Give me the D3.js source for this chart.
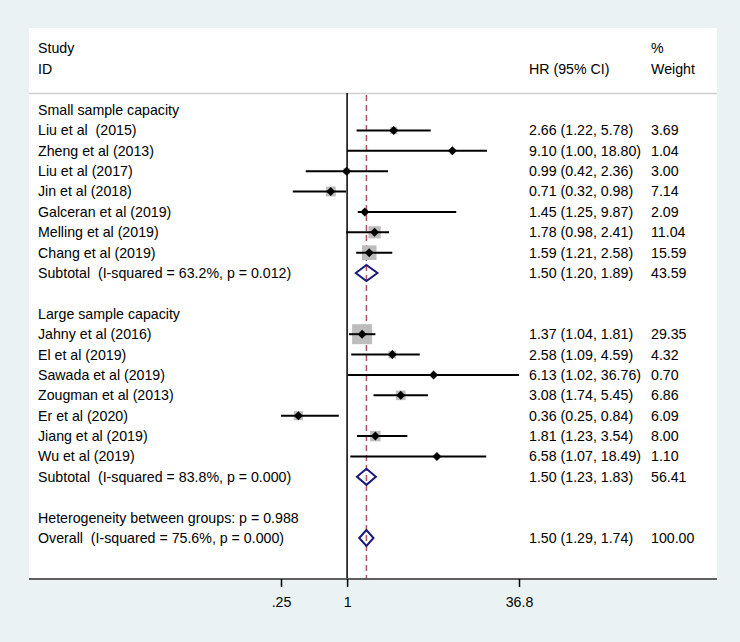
<!DOCTYPE html>
<html>
<head>
<meta charset="utf-8">
<script src="https://cdn.jsdelivr.net/npm/d3@7"></script>
<style>
  html, body { margin: 0; padding: 0; background: #eaf2f3; }
  svg { display: block; }
  text { font-family: "Liberation Sans", Arial, sans-serif; font-size: 14.2px; fill: #000; white-space: pre; }
</style>
</head>
<body>
<svg id="chart" width="740" height="642"></svg>
<script>
// ---- data ----
const rowLabels = [
  "Small sample capacity",
  "Liu et al  (2015)",
  "Zheng et al (2013)",
  "Liu et al (2017)",
  "Jin et al (2018)",
  "Galceran et al (2019)",
  "Melling et al (2019)",
  "Chang et al (2019)",
  "Subtotal  (I-squared = 63.2%, p = 0.012)",
  "",
  "Large sample capacity",
  "Jahny et al (2016)",
  "El et al (2019)",
  "Sawada et al (2019)",
  "Zougman et al (2013)",
  "Er et al (2020)",
  "Jiang et al (2019)",
  "Wu et al (2019)",
  "Subtotal  (I-squared = 83.8%, p = 0.000)",
  "",
  "Heterogeneity between groups: p = 0.988",
  "Overall  (I-squared = 75.6%, p = 0.000)"
];
const rowTypes = [
  "head","study","study","study","study","study","study","study","sub","blank",
  "head","study","study","study","study","study","study","study","sub","blank",
  "text","overall"
];
const hrValues = [null,2.66,9.10,0.99,0.71,1.45,1.78,1.59,1.50,null,
                  null,1.37,2.58,6.13,3.08,0.36,1.81,6.58,1.50,null,null,1.50];
const ciLow    = [null,1.22,1.00,0.42,0.32,1.25,0.98,1.21,1.20,null,
                  null,1.04,1.09,1.02,1.74,0.25,1.23,1.07,1.23,null,null,1.29];
const ciHigh   = [null,5.78,18.80,2.36,0.98,9.87,2.41,2.58,1.89,null,
                  null,1.81,4.59,36.76,5.45,0.84,3.54,18.49,1.83,null,null,1.74];
const weights  = [null,3.69,1.04,3.00,7.14,2.09,11.04,15.59,43.59,null,
                  null,29.35,4.32,0.70,6.86,6.09,8.00,1.10,56.41,null,null,100.00];
const tickValues = [0.25, 1, 36.8];
const tickLabels = [".25", "1", "36.8"];
const overallHR = 1.50;

// ---- layout ----
const svg = d3.select("#chart");
const panel = {x: 29, y: 28, w: 688, h: 551};
const bottom = panel.y + panel.h;

svg.append("rect").attr("x", 0).attr("y", 0).attr("width", 740).attr("height", 642).attr("fill", "#eaf2f3");
svg.append("rect").attr("x", panel.x).attr("y", panel.y).attr("width", panel.w).attr("height", panel.h).attr("fill", "#fff");

const x = d3.scaleLog().domain([0.25, 36.8]).range([281, 519]);
const y = d3.scalePoint().domain(d3.range(rowLabels.length)).range([110, 538]);
const side = d3.scaleSqrt().domain([0, 29.35]).range([0, 20]);
const fmt = d3.format(".2f");

// header
svg.append("line").attr("x1", panel.x).attr("x2", panel.x + panel.w).attr("y1", 93.5).attr("y2", 93.5)
  .attr("stroke", "#cfcfcf").attr("stroke-width", 1.5);
svg.append("text").attr("x", 38).attr("y", 48).attr("dy", "0.35em").text("Study");
svg.append("text").attr("x", 38).attr("y", 69).attr("dy", "0.35em").text("ID");
svg.append("text").attr("x", 529).attr("y", 69).attr("dy", "0.35em").text("HR (95% CI)");
svg.append("text").attr("x", 651).attr("y", 48).attr("dy", "0.35em").text("%");
svg.append("text").attr("x", 651).attr("y", 69).attr("dy", "0.35em").text("Weight");

// reference lines
svg.append("line").attr("x1", x(1)).attr("x2", x(1)).attr("y1", 93).attr("y2", bottom)
  .attr("stroke", "#000").attr("stroke-width", 1.5);
svg.append("line").attr("x1", x(overallHR)).attr("x2", x(overallHR)).attr("y1", 95).attr("y2", bottom)
  .attr("stroke", "#b0505f").attr("stroke-width", 1.5).attr("stroke-dasharray", "6,4");

const idx = d3.range(rowLabels.length);

// labels
svg.append("g").selectAll("text").data(idx).join("text")
  .attr("x", 38).attr("y", i => y(i)).attr("dy", "0.35em").text(i => rowLabels[i]);

const dataRows = idx.filter(i => hrValues[i] !== null);

// HR text and weights
svg.append("g").selectAll("text").data(dataRows).join("text")
  .attr("x", 529).attr("y", i => y(i)).attr("dy", "0.35em")
  .text(i => `${fmt(hrValues[i])} (${fmt(ciLow[i])}, ${fmt(ciHigh[i])})`);
svg.append("g").selectAll("text").data(dataRows).join("text")
  .attr("x", 651).attr("y", i => y(i)).attr("dy", "0.35em")
  .text(i => fmt(weights[i]));

const studyRows = idx.filter(i => rowTypes[i] === "study");
// weight boxes
svg.append("g").selectAll("rect").data(studyRows).join("rect")
  .attr("x", i => x(hrValues[i]) - side(weights[i]) / 2)
  .attr("y", i => y(i) - side(weights[i]) / 2)
  .attr("width", i => side(weights[i]))
  .attr("height", i => side(weights[i]))
  .attr("fill", "#bdbdbd");
// CI lines
svg.append("g").selectAll("line").data(studyRows).join("line")
  .attr("x1", i => x(ciLow[i])).attr("x2", i => x(ciHigh[i]))
  .attr("y1", i => y(i)).attr("y2", i => y(i))
  .attr("stroke", "#000").attr("stroke-width", 2);
// point markers
svg.append("g").selectAll("path").data(studyRows).join("path")
  .attr("d", i => {
    const cx = x(hrValues[i]), cy = y(i), r = 4.5;
    return `M${cx},${cy - r}L${cx + r},${cy}L${cx},${cy + r}L${cx - r},${cy}Z`;
  })
  .attr("fill", "#000");

// summary diamonds
const sumRows = idx.filter(i => rowTypes[i] === "sub" || rowTypes[i] === "overall");
svg.append("g").selectAll("path").data(sumRows).join("path")
  .attr("d", i => {
    const cy = y(i), h = 8;
    return `M${x(ciLow[i])},${cy}L${x(hrValues[i])},${cy - h}L${x(ciHigh[i])},${cy}L${x(hrValues[i])},${cy + h}Z`;
  })
  .attr("fill", "none").attr("stroke", "#1a1a7a").attr("stroke-width", 2);

// axis
svg.append("line").attr("x1", panel.x).attr("x2", panel.x + panel.w).attr("y1", bottom).attr("y2", bottom)
  .attr("stroke", "#5f5f5f").attr("stroke-width", 2);
const axis = d3.axisBottom(x).tickValues(tickValues).tickFormat((d, i) => tickLabels[i]).tickSize(8).tickSizeOuter(0);
const gAxis = svg.append("g").attr("transform", `translate(0,${bottom})`).call(axis);
gAxis.select(".domain").remove();
gAxis.selectAll(".tick line").attr("stroke", "#000").attr("stroke-width", 1.5);
gAxis.selectAll(".tick text").attr("font-family", "Liberation Sans, Arial, sans-serif")
  .attr("font-size", "14.2px").attr("fill", "#000").attr("y", 18);
</script>
</body>
</html>
